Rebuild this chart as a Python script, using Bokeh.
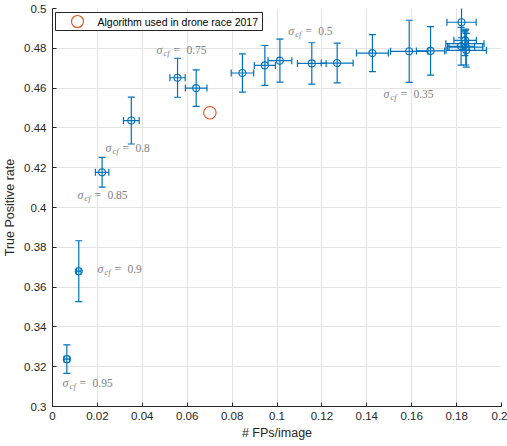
import numpy as np
from bokeh.plotting import figure
from bokeh.models import (ColumnDataSource, Range1d, FixedTicker, CustomJSTickFormatter,
                          Whisker, TeeHead, BoxAnnotation, Label)
from bokeh.core.properties import value
from bokeh.embed import file_html
from bokeh.resources import INLINE

# ---- data ----
fp_rate = [0.0064, 0.0117, 0.0221, 0.0351, 0.0557, 0.0640, 0.0846, 0.0946, 0.1013, 0.1155,
           0.1268, 0.1425, 0.1589, 0.1684, 0.1822, 0.1820, 0.1837, 0.1841, 0.1843, 0.1838]
tp_rate = [0.3238, 0.3680, 0.4177, 0.4437, 0.4652, 0.4600, 0.4676, 0.4714, 0.4738, 0.4724,
           0.4726, 0.4776, 0.4785, 0.4787, 0.4931, 0.4810, 0.4823, 0.4806, 0.4790, 0.4840]
fp_err = [0.0012, 0.0010, 0.0030, 0.0035, 0.0034, 0.0048, 0.0050, 0.0047, 0.0053, 0.0064,
          0.0071, 0.0071, 0.0083, 0.0063, 0.0065, 0.0060, 0.0085, 0.0075, 0.0090, 0.0050]
tp_err = [0.0072, 0.0153, 0.0075, 0.0118, 0.0098, 0.0092, 0.0096, 0.0100, 0.0108, 0.0104,
          0.0100, 0.0093, 0.0156, 0.0122, 0.0078, 0.0095, 0.0060, 0.0090, 0.0085, 0.0050]

race_fp = [0.0701]
race_tp = [0.4476]
race_label = "Algorithm used in drone race 2017"

sigma_vals = ["0.75", "0.8", "0.85", "0.9", "0.95", "0.5", "0.35"]
sigma_lx = [0.0463, 0.0236, 0.0111, 0.0200, 0.0045, 0.1050, 0.1474]
sigma_ly = [0.4790, 0.4301, 0.4064, 0.3693, 0.3117, 0.4886, 0.4572]

x_ticks = [0, 0.02, 0.04, 0.06, 0.08, 0.1, 0.12, 0.14, 0.16, 0.18, 0.2]
y_ticks = [0.3, 0.32, 0.34, 0.36, 0.38, 0.4, 0.42, 0.44, 0.46, 0.48, 0.5]

BLUE = "#0072BD"
ORANGE = "#D95319"
GRAY_TXT = "#7f7f7f"
AX = "#262626"

x = np.array(fp_rate); y = np.array(tp_rate)
ex = np.array(fp_err); ey = np.array(tp_err)
src = ColumnDataSource(dict(x=x, y=y, xl=x - ex, xu=x + ex, yl=y - ey, yu=y + ey))

p = figure(width=507, height=446, output_backend="svg", toolbar_location=None,
           x_range=Range1d(0, 0.2), y_range=Range1d(0.3, 0.5),
           min_border_left=52, min_border_right=6, min_border_top=8, min_border_bottom=40)
p.outline_line_color = None
p.background_fill_color = "white"
p.border_fill_color = "white"

for ax, ticks in ((p.xaxis[0], x_ticks), (p.yaxis[0], y_ticks)):
    ax.ticker = FixedTicker(ticks=ticks)
    ax.formatter = CustomJSTickFormatter(code="return Number(tick.toFixed(2)).toString();")
    ax.major_tick_in = 4
    ax.major_tick_out = 0
    ax.minor_tick_line_color = None
    ax.axis_line_color = AX
    ax.major_tick_line_color = AX
    ax.major_label_text_color = AX
    ax.major_label_text_font = "Liberation Sans"
    ax.major_label_text_font_size = "11.5px"
    ax.axis_label_text_font = "Liberation Sans"
    ax.axis_label_text_font_size = "12.5px"
    ax.axis_label_text_font_style = "normal"
    ax.axis_label_text_color = AX

p.xaxis.axis_label = "# FPs/image"
p.yaxis.axis_label = "True Positive rate"
p.xaxis.major_label_standoff = 5
p.yaxis.major_label_standoff = 6
p.xaxis.axis_label_standoff = 3
p.yaxis.axis_label_standoff = 4

for g in (p.xgrid[0], p.ygrid[0]):
    g.grid_line_color = "#e3e3e3"
    g.grid_line_width = 1
p.xgrid.ticker = FixedTicker(ticks=x_ticks)
p.ygrid.ticker = FixedTicker(ticks=y_ticks)

# error bars
vw = Whisker(source=src, base="x", lower="yl", upper="yu", dimension="height",
             line_color=BLUE, line_width=1.2,
             upper_head=TeeHead(size=7, line_color=BLUE, line_width=1.2),
             lower_head=TeeHead(size=7, line_color=BLUE, line_width=1.2))
hw = Whisker(source=src, base="y", lower="xl", upper="xu", dimension="width",
             line_color=BLUE, line_width=1.2,
             upper_head=TeeHead(size=7, line_color=BLUE, line_width=1.2),
             lower_head=TeeHead(size=7, line_color=BLUE, line_width=1.2))
p.add_layout(vw)
p.add_layout(hw)
p.scatter("x", "y", source=src, marker="circle", size=7, fill_color=None,
          line_color=BLUE, line_width=1.1)

p.scatter(race_fp, race_tp, marker="circle", size=12.5, fill_color=None,
          line_color=ORANGE, line_width=1.1)

# sigma labels
lsrc = ColumnDataSource(dict(x=sigma_lx, y=sigma_ly, v=sigma_vals,
                             s=["σ"] * len(sigma_vals), c=["cf"] * len(sigma_vals),
                             e=["="] * len(sigma_vals)))
common = dict(source=lsrc, text_color=GRAY_TXT, text_baseline="middle", text_align="left",
              text_font=value("Liberation Serif"))
p.text("x", "y", text="s", text_font_size="12px", text_font_style="italic", **common)
p.text("x", "y", text="c", text_font_size="8.5px", text_font_style="italic",
       x_offset=7, y_offset=3, **common)
p.text("x", "y", text="e", text_font_size="11.5px", x_offset=17, **common)
p.text("x", "y", text="v", text_font_size="11.5px", x_offset=30, **common)

# legend box (frame-relative screen units, y from frame bottom)
p.add_layout(BoxAnnotation(left=3, right=210, bottom=376, top=394,
                           left_units="screen", right_units="screen",
                           bottom_units="screen", top_units="screen",
                           fill_color="white", fill_alpha=1, line_color=AX,
                           line_alpha=1, line_width=1, level="overlay"))
p.add_layout(BoxAnnotation(left=19, right=31, bottom=379, top=391,
                           left_units="screen", right_units="screen",
                           bottom_units="screen", top_units="screen",
                           border_radius=6, fill_alpha=0, line_color=ORANGE,
                           line_alpha=1, line_width=1.1, level="overlay"))
p.add_layout(Label(x=45, y=385, x_units="screen", y_units="screen", text=race_label,
                   text_font="Liberation Sans", text_font_size="10.5px", text_color="black",
                   text_baseline="middle", level="overlay"))

open("out.html", "w").write(file_html(p, INLINE))
